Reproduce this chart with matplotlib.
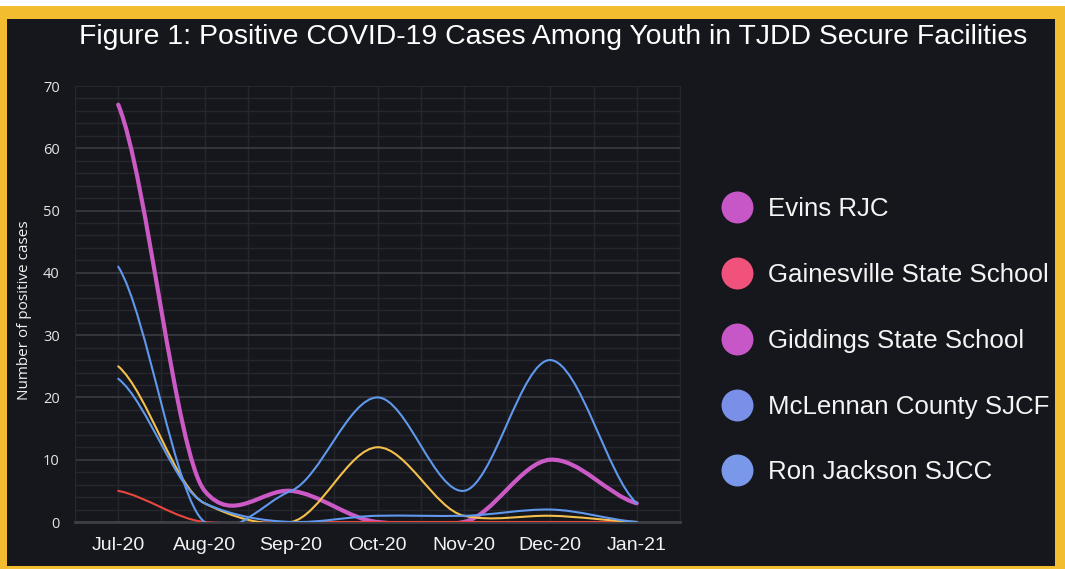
import matplotlib.pyplot as plt
import numpy as np
from matplotlib.lines import Line2D
from matplotlib.patches import PathPatch, Rectangle
from matplotlib.path import Path
from matplotlib.ticker import MultipleLocator

# data
months = ['Jul-20', 'Aug-20', 'Sep-20', 'Oct-20', 'Nov-20', 'Dec-20', 'Jan-21']
evins = [67, 5, 5, 0, 0, 10, 3]
gainesville = [5, 0, 0, 0, 0, 0, 0]
giddings = [25, 3, 0, 12, 1, 1, 0]
mclennan = [41, 0, 5, 20, 5, 26, 3]
ron_jackson = [23, 3, 0, 1, 1, 2, 0]

facilities = ['Evins RJC', 'Gainesville State School', 'Giddings State School',
              'McLennan County SJCF', 'Ron Jackson SJCC']
series = [evins, gainesville, giddings, mclennan, ron_jackson]
line_colors = ['#cb5ac6', '#e8463f', '#f4c04b', '#5f98ec', '#5f98ec']
line_widths = [3.0, 1.5, 1.5, 1.5, 1.5]
legend_colors = ['#c757c6', '#f1527c', '#c757c6', '#7a90e8', '#7a98ea']

BG = '#16171c'
YELLOW = '#f3bd30'
TENSION = 0.27


def smooth_path(values):
    # cubic bezier segments (cardinal spline) through the data points
    y = np.asarray(values, dtype=float)
    x = np.arange(len(y), dtype=float)
    n = len(y)
    slopes = np.zeros(n)
    for i in range(n):
        lo = max(i - 1, 0)
        hi = min(i + 1, n - 1)
        slopes[i] = TENSION * (y[hi] - y[lo]) * (2 / (hi - lo))
    verts = [(x[0], y[0])]
    codes = [Path.MOVETO]
    for i in range(n - 1):
        verts.append((x[i] + 1 / 3, y[i] + slopes[i] / 3))
        verts.append((x[i + 1] - 1 / 3, y[i + 1] - slopes[i + 1] / 3))
        verts.append((x[i + 1], y[i + 1]))
        codes += [Path.CURVE4] * 3
    return Path(verts, codes)


fig = plt.figure(figsize=(10.65, 5.69), dpi=100)
fig.patch.set_facecolor('white')
# yellow frame and dark panel
fig.patches.append(Rectangle((0, 0), 1, 563 / 569, transform=fig.transFigure,
                             facecolor=YELLOW, edgecolor='none', zorder=-3))
fig.patches.append(Rectangle((7 / 1065, 3 / 569), 1048 / 1065, 547 / 569,
                             transform=fig.transFigure, facecolor=BG,
                             edgecolor='none', zorder=-2))

ax = fig.add_axes([75 / 1065, 47 / 569, 605 / 1065, 436 / 569])
ax.set_facecolor(BG)

for values, color, lw in zip(series, line_colors, line_widths):
    patch = PathPatch(smooth_path(values), facecolor='none', edgecolor=color,
                      linewidth=lw, capstyle='round', joinstyle='round', zorder=3)
    ax.add_patch(patch)

ax.set_xlim(-0.5, 6.5)
ax.set_ylim(0, 70)
ax.set_xticks(range(len(months)))
ax.set_xticklabels(months, fontsize=14, color='#f2f2f2', family='Liberation Sans')
ax.xaxis.set_minor_locator(MultipleLocator(0.5))
ax.yaxis.set_major_locator(MultipleLocator(10))
ax.yaxis.set_minor_locator(MultipleLocator(2))
for lab in ax.get_yticklabels():
    lab.set_family('Open Sans')
ax.tick_params(axis='y', labelsize=10.5, colors='#e4e4e4', length=0, pad=11)
ax.tick_params(axis='x', length=0, pad=11)
ax.tick_params(which='minor', length=0)
ax.grid(which='major', axis='y', color='#3b3c41', linewidth=1.2)
ax.grid(which='minor', axis='y', color='#26272d', linewidth=1)
ax.grid(which='both', axis='x', color='#26272d', linewidth=1)
for side in ['top', 'right', 'left']:
    ax.spines[side].set_color('#26272d')
ax.spines['bottom'].set_color('#3e3f44')
ax.spines['bottom'].set_linewidth(2)

ax.set_ylabel('Number of positive cases', fontsize=11, color='#f0f0f0',
              family='Open Sans')
ax.yaxis.set_label_coords(-43 / 605, 0.485)

fig.text(553 / 1065, 1 - 37 / 569,
         'Figure 1: Positive COVID-19 Cases Among Youth in TJDD Secure Facilities',
         ha='center', va='center', fontsize=20.4, color='white',
         family='Liberation Sans')

handles = [Line2D([], [], linestyle='none', marker='o', markersize=23,
                  markerfacecolor=c, markeredgecolor='none') for c in legend_colors]
fig.legend(handles, facilities, loc='upper left',
           bbox_to_anchor=(721 / 1065, 1 - 197 / 569), frameon=False,
           prop={'family': 'Liberation Sans', 'size': 18.6},
           labelcolor='#f4f4f4', handlelength=1.2, handletextpad=0.6,
           labelspacing=1.62, borderpad=0, borderaxespad=0)

fig.savefig('out.png', dpi=100, facecolor=fig.get_facecolor())
